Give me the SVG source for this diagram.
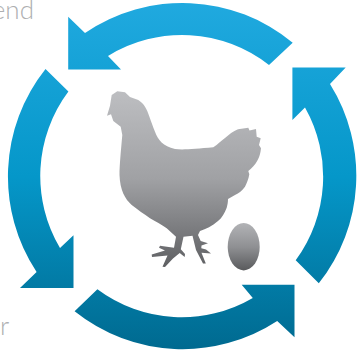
<svg xmlns="http://www.w3.org/2000/svg" width="363" height="352" viewBox="0 0 363 352">
<defs>
<linearGradient id="blue" gradientUnits="userSpaceOnUse" x1="0" y1="4" x2="0" y2="349"><stop offset="0" stop-color="#20a9df"/><stop offset="0.5" stop-color="#0597c9"/><stop offset="1" stop-color="#006a90"/></linearGradient>
<linearGradient id="hen" gradientUnits="userSpaceOnUse" x1="0" y1="91" x2="0" y2="267"><stop offset="0" stop-color="#bdbec1"/><stop offset="0.5" stop-color="#a0a1a4"/><stop offset="1" stop-color="#5f6063"/></linearGradient>
<linearGradient id="egg" gradientUnits="userSpaceOnUse" x1="0" y1="223" x2="0" y2="271"><stop offset="0" stop-color="#b2b3b6"/><stop offset="0.5" stop-color="#8f9093"/><stop offset="1" stop-color="#58595b"/></linearGradient>
</defs>
<style>
.a{fill:url(#blue)}
.t{font-family:"Lato","Liberation Sans",sans-serif;font-weight:300;font-size:26px;fill:#aeafb1}
</style>
<g id="labels">
<text class="t" x="34" y="19" text-anchor="end">end</text>
<text class="t" x="0" y="335">r</text>
</g>
<g id="connectors">
<path id="arrow-top" class="a" d="M292.7 42.7A173 173 0 0 0 85 33L68.2 16.7V69.5H121L108 56A141 141 0 0 1 269 65Z"/>
<path id="arrow-left" class="a" d="M45.5 69A173 173 0 0 0 36.6 272L20 288H73.5V235.3L60 248A141 141 0 0 1 68.4 91.5Z"/>
<path id="arrow-bottom" class="a" d="M74.6 311.3A173 173 0 0 0 277.2 321L294.5 337.3V284.7H241.7L252.8 298A141 141 0 0 1 97.4 289.3Z"/>
<path id="arrow-right" class="a" d="M318.8 283.3A173 173 0 0 0 330 84L345.7 67.5H292.4V120L305 107.5A141 141 0 0 1 295.7 260.3Z"/>
</g>
<g id="hen-node">
<path fill="url(#hen)" d="M107 115.7L110 105.7L111.7 95L117.3 91.3L125 92.3L130 97L138.3 100C141 102 143.5 104 145 106.7C148 111 151 122 155 131.7C158 140 163 146 175 149C182 150 195 149 213.3 147.3C218 144 221 141 225 138C229 135 233 131 238 129.3L248.3 127.7L249.5 130.5L256 129L256.7 136.7L260.7 138.3L259 145L261 148.3C260.5 153 259.5 157 257.7 160C255 165 252 168 248.3 171L249.3 174.3C248.5 179 247 183 245 186.7C242 191 239 193 235 195L228 199C228 202 227.5 205 226.7 207.7C224.5 213 222 218 218 221C212 226 206 229 200 231L198 235L200.7 241L208 243.3L201.5 245.5L201.3 248.3L206 249.5L211 253.5L201.5 252.7L205.8 263.5L203 263.5L196 250L192.5 235.7L183.5 236.7L180.8 249.3L185 254L184.7 257L179.7 253L173 258.5L165 267L162.5 266.7L167.5 255.5L152 257L151.7 254.5L165 250.5L159 247.7L160 245.7L174 247.8L176 236.7L166.7 228.3C161 224 156 222 150 218.3C144 214 138 210 131.7 205C125 199 120 190 119.5 175C119.5 165 121 150 122.3 135L120.7 126.7L113.3 121L111 114.3Z"/>
</g>
<g id="egg-node">
<ellipse cx="243.7" cy="246.7" rx="16" ry="23.7" fill="url(#egg)"/>
</g>
</svg>
